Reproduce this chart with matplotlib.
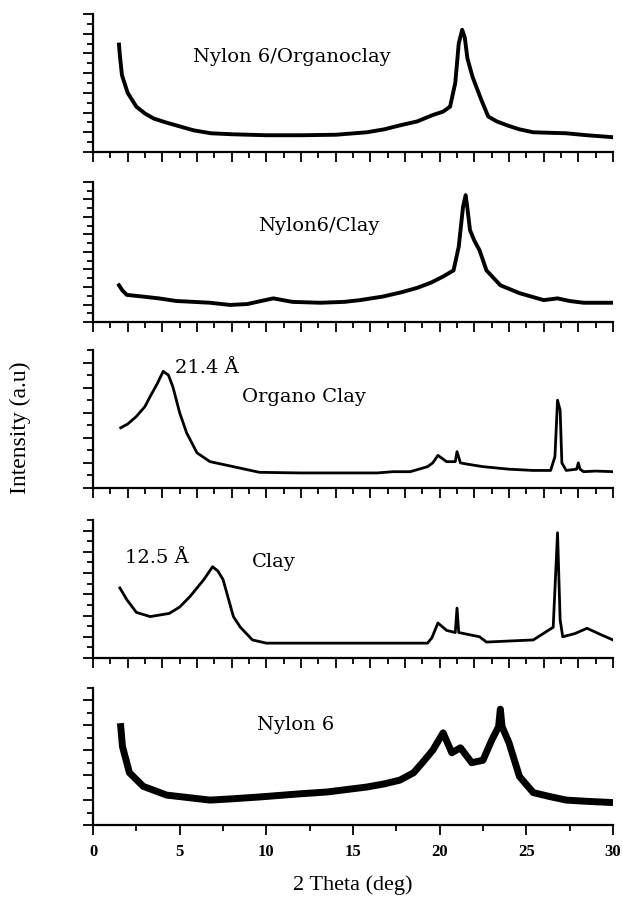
import numpy as np
import matplotlib
matplotlib.use("Agg")
import matplotlib.pyplot as plt
from matplotlib.ticker import MultipleLocator

# XRD traces (2 theta in deg, intensity in panel units)
x_noc = [1.5, 1.55, 1.67, 2.0, 2.5, 3.0, 3.5, 4.2, 4.8, 5.8, 6.8, 8.0, 10.0, 12.0, 14.0, 15.8, 16.8, 17.7, 18.7,
         19.6, 20.2, 20.6, 20.9, 21.1, 21.3, 21.45, 21.6, 21.9, 22.4, 22.8, 23.3, 23.9, 24.6, 25.4, 26.3, 27.3, 28.5, 30.0]
y_noc = [10.9, 9.8, 7.8, 6.0, 4.6, 3.9, 3.4, 3.0, 2.7, 2.2, 1.9, 1.8, 1.7, 1.7, 1.75, 2.0, 2.3, 2.7, 3.1,
         3.75, 4.1, 4.6, 7.0, 11.0, 12.4, 11.6, 9.5, 7.6, 5.3, 3.6, 3.1, 2.7, 2.3, 2.0, 1.95, 1.9, 1.7, 1.5]

x_nc = [1.5, 1.7, 1.95, 2.9, 3.8, 4.8, 5.8, 6.75, 7.9, 8.9, 9.7, 10.4, 11.5, 13.1, 14.5, 15.4, 16.7, 17.8, 18.7,
        19.5, 20.2, 20.8, 21.1, 21.35, 21.5, 21.6, 21.75, 22.0, 22.3, 22.7, 23.5, 24.6, 25.3, 26.0, 26.8, 27.5, 28.3, 30.0]
y_nc = [4.2, 3.6, 3.1, 2.9, 2.7, 2.4, 2.3, 2.2, 1.95, 2.05, 2.4, 2.7, 2.3, 2.2, 2.3, 2.5, 2.9, 3.4, 3.9,
        4.5, 5.2, 5.9, 8.6, 13.2, 14.5, 13.0, 10.5, 9.3, 8.2, 5.9, 4.2, 3.3, 2.9, 2.5, 2.7, 2.4, 2.2, 2.2]

x_oc = [1.6, 2.0, 2.5, 3.0, 3.3, 3.7, 4.05, 4.35, 4.6, 5.0, 5.4, 6.0, 6.75, 8.1, 9.6, 12.0, 14.0, 16.4, 17.3,
        18.3, 19.3, 19.6, 19.9, 20.2, 20.4, 20.9, 21.0, 21.2, 21.6, 22.5, 24.0, 25.4, 26.4, 26.65, 26.8, 26.95, 27.05,
        27.3, 27.9, 28.0, 28.1, 28.3, 29.0, 30.0]
y_oc = [4.8, 5.1, 5.7, 6.5, 7.3, 8.3, 9.3, 9.0, 8.1, 6.0, 4.4, 2.8, 2.1, 1.7, 1.25, 1.2, 1.2, 1.2, 1.3,
        1.3, 1.7, 2.0, 2.6, 2.3, 2.1, 2.1, 2.9, 2.0, 1.9, 1.7, 1.5, 1.4, 1.4, 2.5, 7.0, 6.2, 2.0,
        1.4, 1.5, 2.0, 1.5, 1.3, 1.35, 1.3]

x_cl = [1.55, 1.95, 2.5, 3.3, 4.4, 5.0, 5.6, 6.0, 6.4, 6.9, 7.2, 7.5, 8.1, 8.5, 9.2, 10.0, 13.0, 16.0, 19.3,
        19.55, 19.9, 20.4, 20.9, 21.0, 21.1, 22.3, 22.7, 24.0, 25.4, 26.55, 26.8, 26.95, 27.1, 27.8, 28.5, 29.3, 30.0]
y_cl = [6.6, 5.5, 4.3, 3.9, 4.2, 4.8, 5.8, 6.6, 7.4, 8.6, 8.2, 7.4, 3.9, 2.9, 1.7, 1.4, 1.4, 1.4, 1.4,
        1.9, 3.3, 2.6, 2.4, 4.7, 2.4, 2.0, 1.5, 1.6, 1.7, 2.9, 11.8, 3.6, 2.0, 2.3, 2.8, 2.2, 1.7]

x_ny = [1.6, 1.7, 2.1, 2.9, 4.25, 5.5, 6.75, 8.0, 9.6, 11.9, 13.5, 15.8, 16.8, 17.7, 18.5, 19.0, 19.6, 20.2,
        20.7, 21.2, 21.85, 22.5, 23.0, 23.4, 23.5, 23.6, 24.0, 24.6, 25.4, 26.3, 27.3, 28.5, 30.0]
y_ny = [7.9, 6.3, 4.2, 3.1, 2.4, 2.2, 2.0, 2.1, 2.25, 2.5, 2.65, 3.05, 3.3, 3.6, 4.2, 5.0, 6.0, 7.4,
        5.8, 6.2, 5.0, 5.2, 6.8, 7.9, 9.3, 7.9, 6.6, 3.9, 2.6, 2.3, 2.0, 1.9, 1.8]

traces = [(x_noc, y_noc, 14, 2.8), (x_nc, y_nc, 16, 2.8), (x_oc, y_oc, 11, 2.0),
          (x_cl, y_cl, 13, 2.0), (x_ny, y_ny, 11, 5.0)]

W, H = 622, 902
fig = plt.figure(figsize=(W / 100, H / 100), dpi=100)
panels_px = [(14, 152), (182, 322), (350, 488), (520, 658), (688, 825)]
left, right = 93, 613

for i, ((top, bot), (xs, ys, ymax, lw)) in enumerate(zip(panels_px, traces)):
    ax = fig.add_axes([left / W, 1 - bot / H, (right - left) / W, (bot - top) / H])
    ax.plot(xs, ys, color="black", lw=lw, solid_joinstyle="round")
    ax.set_xlim(0, 30)
    ax.set_ylim(0, ymax)
    for s in ["top", "right"]:
        ax.spines[s].set_visible(False)
    for s in ["left", "bottom"]:
        ax.spines[s].set_linewidth(1.6)
    ax.yaxis.set_major_locator(MultipleLocator(2))
    ax.yaxis.set_minor_locator(MultipleLocator(1))
    ax.tick_params(axis="y", which="major", direction="out", length=7, width=1.3, labelleft=False)
    ax.tick_params(axis="y", which="minor", direction="out", length=4, width=1.3)
    if i < 4:
        ax.xaxis.set_major_locator(MultipleLocator(2))
        ax.xaxis.set_minor_locator(MultipleLocator(1))
        ax.tick_params(axis="x", which="major", direction="out", length=7, width=1.3, labelbottom=False)
        ax.tick_params(axis="x", which="minor", direction="out", length=4, width=1.3)
    else:
        ax.xaxis.set_major_locator(MultipleLocator(5))
        ax.xaxis.set_minor_locator(MultipleLocator(2.5))
        ax.tick_params(axis="x", which="major", direction="out", length=7, width=1.3, pad=7)
        ax.tick_params(axis="x", which="minor", direction="out", length=4, width=1.3)
        for lab in ax.get_xticklabels():
            lab.set_fontfamily("Liberation Serif")
            lab.set_fontweight("bold")
            lab.set_fontsize(12)

labels = [("Nylon 6/Organoclay", 193, 57), ("Nylon6/Clay", 258, 226), ("21.4 Å", 175, 368),
          ("Organo Clay", 242, 397), ("12.5 Å", 125, 558), ("Clay", 252, 562), ("Nylon 6", 257, 725)]
for t, px, py in labels:
    fig.text(px / W, 1 - py / H, t, ha="left", va="center", fontsize=14, family="DejaVu Serif")

fig.text(20 / W, 1 - 428 / H, "Intensity (a.u)", rotation=90, ha="center", va="center",
         fontsize=17, family="Liberation Serif")
fig.text(353 / W, 1 - 885 / H, "2 Theta (deg)", ha="center", va="center",
         fontsize=16, family="Liberation Serif")

fig.savefig("out.png", dpi=100)
